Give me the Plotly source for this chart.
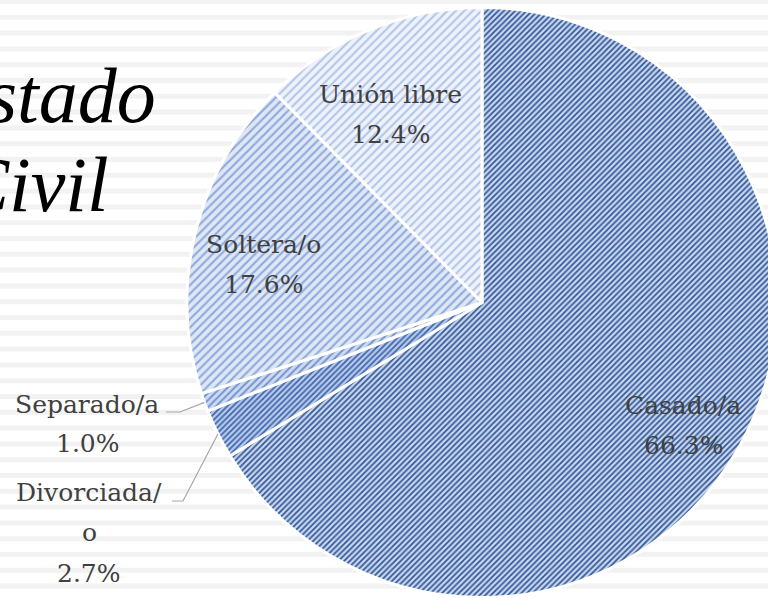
import math
import plotly.graph_objects as go

# ---- data ----
labels = ["Casado/a", "Divorciada/o", "Separado/a", "Soltera/o", "Unión libre"]
values = [66.3, 2.7, 1.0, 17.6, 12.4]
title_lines = ["Estado", "Civil"]

# ---- style ----
W, H = 778, 598          # page shows the left 768 px; pie is cut at the right edge like the reference
CX, CY, R = 482, 302.5, 295
fg = ["#2f5597", "#3a63ab", "#7393cf", "#8eaadc", "#b3c5e8"]
bg = ["#c9d7ee", "#b9cbea", "#cddaf1", "#dfe7f5", "#eef2fa"]
psize = [4, 4, 5, 6, 6]
psol = [0.42, 0.42, 0.38, 0.36, 0.34]
TXT = "#404040"
LABEL_FONT = dict(family="DejaVu Serif", size=25, color=TXT)


def px(x):
    return x / W


def py(y):
    return 1 - y / H


fig = go.Figure(
    go.Pie(
        labels=labels,
        values=values,
        sort=False,
        direction="clockwise",
        rotation=0,
        textinfo="none",
        hoverinfo="label+percent",
        showlegend=False,
        marker=dict(
            colors=bg,
            line=dict(color="white", width=3),
            pattern=dict(shape="/", fgcolor=fg, bgcolor=bg, size=psize, solidity=psol),
        ),
        domain=dict(x=[px(CX - R), px(CX + R)], y=[py(CY + R), py(CY - R)]),
    )
)

# background stripes
shapes = []
k = 0
while k * 15.8 - 1 < H:
    y0 = k * 15.8 - 1
    shapes.append(dict(type="rect", xref="paper", yref="paper", x0=0, x1=1,
                       y0=py(y0 + 5), y1=py(y0), fillcolor="#f2f2f2",
                       line=dict(width=0), layer="below"))
    k += 1

# slice mid angles (clockwise from 12 o'clock) from the data
total = sum(values)
mids = []
acc = 0
for v in values:
    mids.append((acc + v / 2) / total * 360)
    acc += v


def polar(theta, frac):
    t = math.radians(theta)
    return CX + frac * R * math.sin(t), CY - frac * R * math.cos(t)


annotations = []
# inside labels: (index, radius fraction, angle nudge)
inside = [(0, 0.80, 2.2), (3, 0.75, -3.9), (4, 0.71, -3.6)]
for i, f, d in inside:
    x, y = polar(mids[i] + d, f)
    annotations.append(dict(x=px(x), y=py(y - 20), xref="paper", yref="paper",
                            text=labels[i], showarrow=False, font=LABEL_FONT,
                            xanchor="center", yanchor="middle"))
    annotations.append(dict(x=px(x), y=py(y + 20), xref="paper", yref="paper",
                            text=f"{values[i] / total * 100:.1f}%", showarrow=False,
                            font=LABEL_FONT, xanchor="center", yanchor="middle"))

# outside labels with leader lines
annotations += [
    dict(x=px(87), y=py(404), xref="paper", yref="paper", text=labels[2], showarrow=False,
         font=LABEL_FONT, xanchor="center", yanchor="middle"),
    dict(x=px(88), y=py(444), xref="paper", yref="paper", text=f"{values[2] / total * 100:.1f}%",
         showarrow=False, font=LABEL_FONT, xanchor="center", yanchor="middle"),
    dict(x=px(89), y=py(492), xref="paper", yref="paper", text="Divorciada/", showarrow=False,
         font=LABEL_FONT, xanchor="center", yanchor="middle"),
    dict(x=px(89), y=py(532), xref="paper", yref="paper", text="o", showarrow=False,
         font=LABEL_FONT, xanchor="center", yanchor="middle"),
    dict(x=px(89), y=py(573), xref="paper", yref="paper", text=f"{values[1] / total * 100:.1f}%",
         showarrow=False, font=LABEL_FONT, xanchor="center", yanchor="middle"),
]
ex, ey = polar(mids[2], 1.0)
shapes.append(dict(type="path", xref="paper", yref="paper",
                   path=f"M {px(166)} {py(412)} L {px(180)} {py(412)} L {px(ex)} {py(ey)}",
                   line=dict(color="#a6a6a6", width=1.2)))
ex, ey = polar(mids[1], 1.0)
shapes.append(dict(type="path", xref="paper", yref="paper",
                   path=f"M {px(172)} {py(501)} L {px(183)} {py(501)} L {px(ex)} {py(ey)}",
                   line=dict(color="#a6a6a6", width=1.2)))

# title (partly cut at the left edge, as in the reference)
TITLE_FONT = dict(family="Liberation Serif", size=78, color="#000000", style="italic")
annotations.append(dict(x=px(-64), y=py(95), xref="paper", yref="paper", text=title_lines[0],
                        showarrow=False, font=TITLE_FONT, xanchor="left", yanchor="middle"))
annotations.append(dict(x=px(-45), y=py(184), xref="paper", yref="paper", text=title_lines[1],
                        showarrow=False, font=TITLE_FONT, xanchor="left", yanchor="middle"))

fig.update_layout(
    width=W, height=H,
    margin=dict(l=0, r=0, t=0, b=0),
    paper_bgcolor="white",
    plot_bgcolor="white",
    shapes=shapes,
    annotations=annotations,
)

fig.write_html(
    "out.html",
    config={"displayModeBar": False},
    post_script="document.body.style.margin='0';document.body.style.overflow='hidden';"
                "document.documentElement.style.overflow='hidden';",
)
